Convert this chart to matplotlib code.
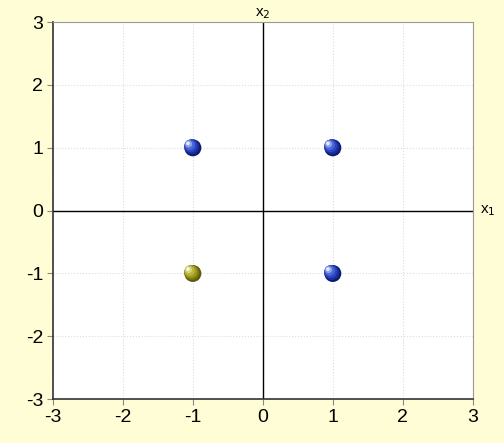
import matplotlib

matplotlib.use("Agg")
import matplotlib.pyplot as plt  # noqa: E402

plt.rcParams["font.family"] = ["Liberation Sans", "DejaVu Sans"]
plt.rcParams["axes.unicode_minus"] = False

# points of the XOR-like layout
x1 = [-1, 1, 1, -1]
x2 = [1, 1, -1, -1]
cls = ["blue", "blue", "blue", "yellow"]
ticks = [-3, -2, -1, 0, 1, 2, 3]

shades = {
    "blue": ["#0d1a6e", "#1a2f9a", "#2a46c0", "#4a66d8", "#8fa2ea", "#e8ecff"],
    "yellow": ["#5e5a06", "#7e7a12", "#9d9a22", "#b8b43c", "#d6d47e", "#f8f8e0"],
}

fig = plt.figure(figsize=(5.04, 4.43), dpi=100, facecolor="#fefdd6")
ax = fig.add_axes([0.105, 0.099, 0.833, 0.851])
ax.set_facecolor("white")
ax.set_xlim(-3, 3)
ax.set_ylim(-3, 3)
ax.set_xticks(ticks)
ax.set_yticks(ticks)
ax.tick_params(labelsize=14, length=4, width=0.8, color="#888888", direction="out", pad=3)
ax.grid(True, color="#dddddd", linestyle=":", linewidth=0.8)
ax.set_axisbelow(True)
for side in ("left", "bottom"):
    ax.spines[side].set_color("#333333")
    ax.spines[side].set_linewidth(1.2)
for side in ("top", "right"):
    ax.spines[side].set_color("#999999")
    ax.spines[side].set_linewidth(0.8)
ax.axhline(0, color="black", linewidth=1.0, zorder=2)
ax.axvline(0, color="black", linewidth=1.0, zorder=2)

# shaded spheres: stacked circles shifted to upper-left
sizes = [150, 115, 85, 55, 25, 7]
offs = [0.0, 0.015, 0.03, 0.045, 0.06, 0.07]
for xi, yi, c in zip(x1, x2, cls):
    for s, o, col in zip(sizes, offs, shades[c]):
        ax.scatter(xi - o, yi + o, s=s, color=col, edgecolors="none", zorder=3)

ax.text(0, 3.02, "x$_2$", ha="center", va="bottom", fontsize=11)
ax.text(3.1, 0, "x$_1$", ha="left", va="center", fontsize=11, clip_on=False)

fig.savefig("out.png", dpi=100, facecolor=fig.get_facecolor())
